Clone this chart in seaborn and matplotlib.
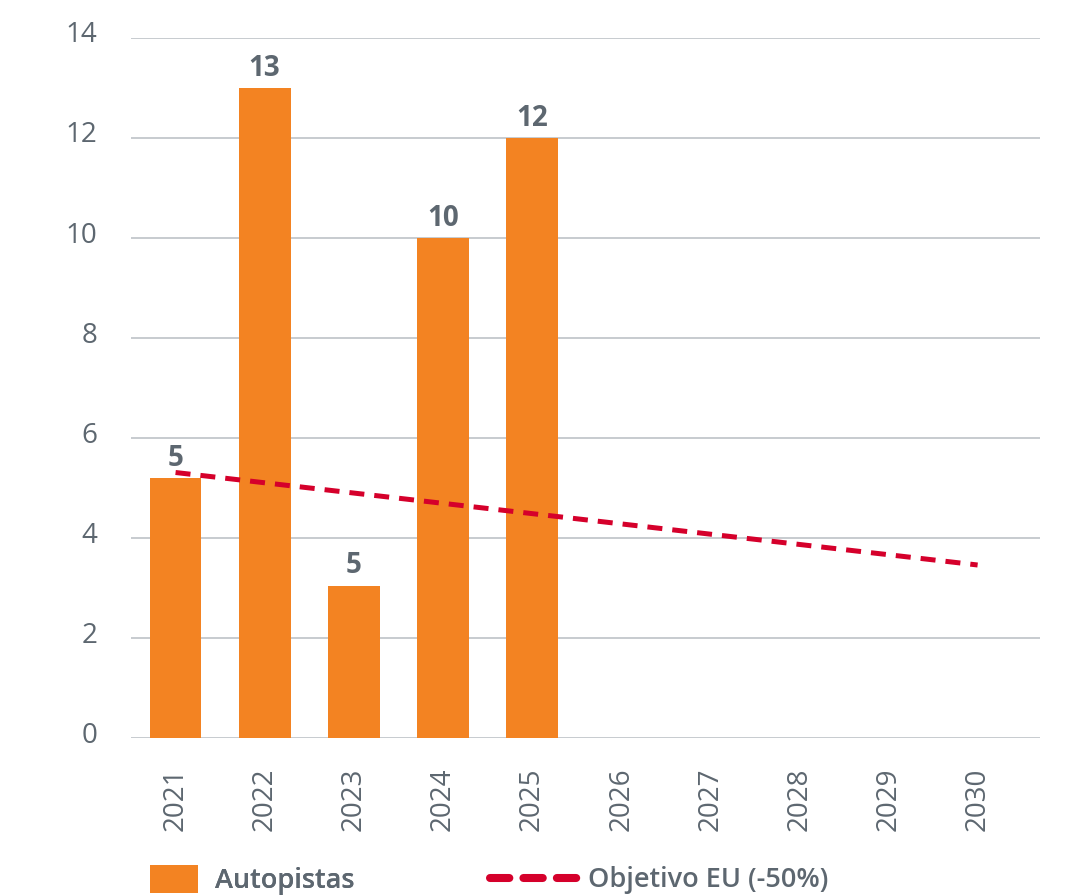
import matplotlib
matplotlib.use("Agg")
import matplotlib.pyplot as plt
import matplotlib.transforms as mtransforms
from matplotlib.lines import Line2D
from matplotlib.patches import Patch
import pandas as pd
import seaborn as sns

# Data
years = ["2021", "2022", "2023", "2024", "2025", "2026", "2027", "2028", "2029", "2030"]
bar_years = ["2021", "2022", "2023", "2024", "2025"]
autopistas = [5.2, 13.0, 3.05, 10.0, 12.0]
bar_labels = ["5", "13", "5", "10", "12"]
target_years = ["2021", "2030"]
target_values = [5.31, 3.46]
y_ticks = [0, 2, 4, 6, 8, 10, 12, 14]

ORANGE = "#F38322"
RED = "#D5002B"
GREY = "#5D6770"
GRID = "#C3C7CB"

sns.set_theme(style="white")
plt.rcParams["font.family"] = ["Open Sans", "DejaVu Sans"]

W, H = 1066, 896
fig = plt.figure(figsize=(W / 100, H / 100), dpi=100)
ax = fig.add_axes([131 / W, 1 - 738 / H, 909 / W, 700 / H])

df = pd.DataFrame({"year": bar_years, "value": autopistas})
sns.barplot(data=df, x="year", y="value", order=years, color=ORANGE,
            saturation=1, width=0.58, edgecolor="none", ax=ax, zorder=2)

# EU target trend line
tx = [years.index(y) for y in target_years]
ax.plot(tx, target_values, color=RED, linewidth=3.6, linestyle=(0, (3, 2)),
        dash_capstyle="butt", zorder=3)

# Value labels above bars
for i, (v, lbl) in enumerate(zip(autopistas, bar_labels)):
    ax.annotate(lbl, (i, v), xytext=(0, 9), textcoords="offset points",
                ha="center", va="baseline", fontsize=20, fontweight="bold",
                color=GREY)

ax.set_xlim(-0.5, 9.7)
ax.set_ylim(0, 14)
ax.set_yticks(y_ticks)
ax.set_xlabel("")
ax.set_ylabel("")
for s in ax.spines.values():
    s.set_visible(False)
ax.yaxis.grid(True, color=GRID, linewidth=1.3, zorder=0)
ax.set_axisbelow(True)

ax.tick_params(axis="y", length=0, labelsize=20, labelcolor=GREY, pad=24)
ax.tick_params(axis="x", length=0, labelsize=20, labelcolor=GREY, pad=21,
               labelrotation=90)
for t in ax.get_xticklabels():
    t.set_va("top")
    t.set_ha("center")
shift = mtransforms.ScaledTranslation(0, 6 / 100, fig.dpi_scale_trans)
for t in ax.get_yticklabels():
    t.set_transform(t.get_transform() + shift)

# Legend entries
fs = 19.5
fs_px = fs * 100 / 72
leg_font = {"size": fs, "weight": "semibold", "family": ["Open Sans", "DejaVu Sans"]}
leg1 = fig.legend(handles=[Patch(facecolor=ORANGE, edgecolor="none", label="Autopistas")],
                  loc="center left", bbox_to_anchor=(150 / W, 1 - 880 / H),
                  frameon=False, borderpad=0, borderaxespad=0,
                  handlelength=48 / fs_px, handleheight=32 / fs_px,
                  handletextpad=17 / fs_px, prop=leg_font, labelcolor=GREY)
leg2 = fig.legend(handles=[Line2D([], [], color=RED, linewidth=5.8,
                                  linestyle=(0, (2.4, 1.75)),
                                  dash_capstyle="round", label="Objetivo EU (-50%)")],
                  loc="center left", bbox_to_anchor=(490 / W, 1 - 880 / H),
                  frameon=False, borderpad=0, borderaxespad=0,
                  handlelength=88 / fs_px, handletextpad=10 / fs_px,
                  prop=leg_font, labelcolor=GREY)
fig.add_artist(leg1)

fig.savefig("out.png", dpi=100, facecolor="white")
